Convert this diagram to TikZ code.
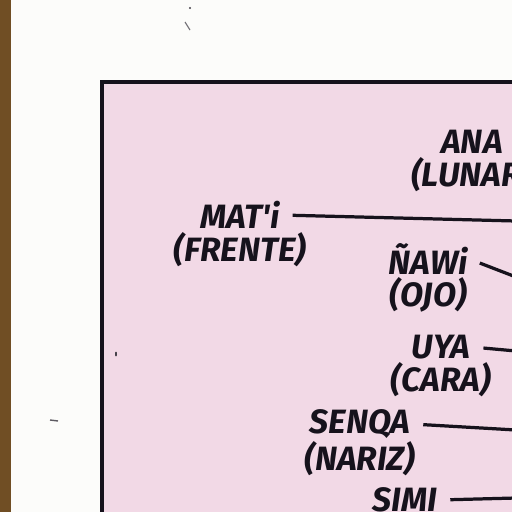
\documentclass[tikz,border=0pt]{standalone}
\usepackage{fontspec}
\newfontfamily\hand{Fira Sans}
\usetikzlibrary{positioning}
\definecolor{wood}{RGB}{112,78,36}
\definecolor{paper}{RGB}{252,252,250}
\definecolor{sheet}{RGB}{242,217,230}
\definecolor{ink}{RGB}{22,18,28}

\begin{document}
\begin{tikzpicture}[x=0.25mm,y=-0.25mm,node distance=0pt,
    word/.style={font=\hand\bfseries\itshape\fontsize{24}{26}\selectfont,text=ink,inner sep=1pt},
    lead/.style={draw=ink,line width=2.3pt,shorten <=8pt}]
    \useasboundingbox (0,0) rectangle (512,512);
    % background: desk, paper, pink sheet
    \fill[paper] (0,0) rectangle (512,512);
    \fill[wood] (0,0) rectangle (11,512);
    \fill[sheet,draw=ink,line width=2.8pt] (102,82) rectangle (530,530);
    \fill[ink!80] (190,8) circle (1.2);
    \draw[ink!60,line width=0.8pt] (185,22) -- (190,30);
    \draw[ink!70,line width=1pt] (50,420) -- (58,421);
    \fill[ink!80] (116,354) ellipse (1 and 2.5);

    \node[word] (ana)   at (472,142) {ANA};
    \node[word] (lunar) [below=of ana] {(LUNAR)};
    \node[word] (mati)  at (240,215) {MAT'i};
    \node[word] (frente) [below=of mati] {(FRENTE)};
    \node[word] (nawi)  at (428,259) {ÑAWi};
    \node[word] (ojo)   [below=of nawi] {(OJO)};
    \node[word] (uya)   at (441,347) {UYA};
    \node[word] (cara)  [below=of uya] {(CARA)};
    \node[word] (senqa) at (360,424) {SENQA};
    \node[word] (nariz) [below=of senqa] {(NARIZ)};
    \node[word] (simi)  at (405,500) {SIMI};

    \coordinate (mati-end)  at (516,221);
    \coordinate (nawi-end)  at (516,277);
    \coordinate (uya-end)   at (516,351);
    \coordinate (senqa-end) at (516,430);
    \coordinate (simi-end)  at (516,498);

    \draw[lead] (mati.east) -- (mati-end);
    \draw[lead] (nawi.east) -- (nawi-end);
    \draw[lead] (uya.east) -- (uya-end);
    \draw[lead] (senqa.east) -- (senqa-end);
    \draw[lead] (simi.east) -- (simi-end);
\end{tikzpicture}
\end{document}
